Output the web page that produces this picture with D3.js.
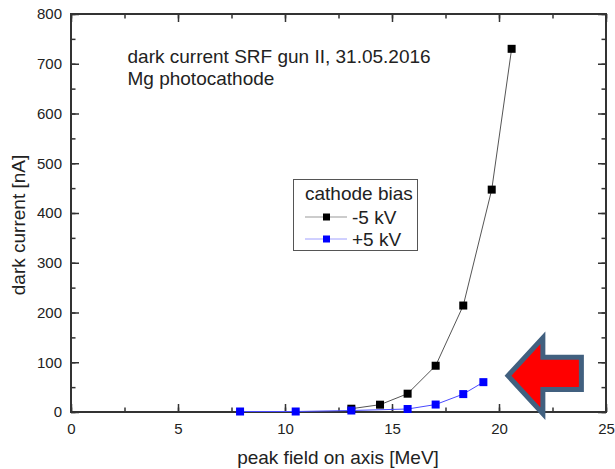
<!DOCTYPE html>
<html><head><meta charset="utf-8">
<script src="https://cdn.jsdelivr.net/npm/d3@7"></script>
<style>body{margin:0;background:#fff}svg{display:block}text{font-family:"Liberation Sans",Arial,sans-serif;fill:#222}</style>
</head><body><svg id="c" width="615" height="469"></svg>
<script>
const xTicks = [0, 5, 10, 15, 20, 25];
const yTicks = [0, 100, 200, 300, 400, 500, 600, 700, 800];
const negX = [13.1, 14.44, 15.73, 17.04, 18.33, 19.66, 20.59];
const negY = [6.6, 14.7, 36.8, 93, 214, 447, 730];
const posX = [7.9, 10.5, 13.1, 15.73, 17.04, 18.33, 19.27];
const posY = [1, 1, 3, 6, 15, 36, 60];
const seriesNames = ["-5 kV", "+5 kV"];
const legendTitle = "cathode bias";
const noteLines = ["dark current SRF gun II, 31.05.2016", "Mg photocathode"];
const xLabel = "peak field on axis [MeV]";
const yLabel = "dark current [nA]";
// annotation arrow vertices in data units
const arrowX = [20.42, 22.05, 22.05, 23.85, 23.85, 22.05, 22.05];
const arrowY = [73, 149, 110, 110, 45.4, 45.4, -3.4];

const W = 615, H = 469, m = {l: 71, r: 9, t: 14, b: 57};
const svg = d3.select("#c");
const x = d3.scaleLinear().domain([0, 25]).range([m.l, W - m.r]);
const y = d3.scaleLinear().domain([0, 800]).range([H - m.b, m.t]);
const axisColor = "#333";

function styleAxis(g) {
  g.select(".domain").remove();
  g.selectAll("line").attr("stroke", axisColor).attr("stroke-width", 1.5);
  g.selectAll("text").style("font-size", "15px").attr("fill", "#222");
}
const xMinor = d3.range(0, 25.01, 2.5);
const yMinor = d3.range(0, 800.1, 50);
// bottom
svg.append("g").attr("transform", `translate(0,${y(0)})`)
  .call(d3.axisBottom(x).tickValues(xMinor).tickSize(-4.5).tickFormat(""))
  .call(styleAxis);
svg.append("g").attr("transform", `translate(0,${y(0)})`)
  .call(d3.axisBottom(x).tickValues(xTicks).tickSize(-8).tickPadding(11.5).tickFormat(d3.format("d")))
  .call(styleAxis);
// top
svg.append("g").attr("transform", `translate(0,${y(800)})`)
  .call(d3.axisTop(x).tickValues(xMinor).tickSize(-4.5).tickFormat("")).call(styleAxis);
svg.append("g").attr("transform", `translate(0,${y(800)})`)
  .call(d3.axisTop(x).tickValues(xTicks).tickSize(-8).tickFormat("")).call(styleAxis);
// left
svg.append("g").attr("transform", `translate(${x(0)},0)`)
  .call(d3.axisLeft(y).tickValues(yMinor).tickSize(-4.5).tickFormat("")).call(styleAxis);
svg.append("g").attr("transform", `translate(${x(0)},0)`)
  .call(d3.axisLeft(y).tickValues(yTicks).tickSize(-8).tickPadding(9).tickFormat(d3.format("d"))).call(styleAxis);
// right
svg.append("g").attr("transform", `translate(${x(25)},0)`)
  .call(d3.axisRight(y).tickValues(yMinor).tickSize(-4.5).tickFormat("")).call(styleAxis);
svg.append("g").attr("transform", `translate(${x(25)},0)`)
  .call(d3.axisRight(y).tickValues(yTicks).tickSize(-8).tickFormat("")).call(styleAxis);
// frame
svg.append("rect").attr("x", x(0)).attr("y", y(800)).attr("width", x(25) - x(0)).attr("height", y(0) - y(800))
  .attr("fill", "none").attr("stroke", axisColor).attr("stroke-width", 2);

const line = d3.line().x(d => x(d[0])).y(d => y(d[1]));
const neg = negX.map((v, i) => [v, negY[i]]);
const pos = posX.map((v, i) => [v, posY[i]]);
const ms = 8;
svg.append("path").attr("d", line(neg)).attr("fill", "none").attr("stroke", "#555").attr("stroke-width", 1);
svg.selectAll(".mn").data(neg).enter().append("rect")
  .attr("x", d => x(d[0]) - ms / 2).attr("y", d => y(d[1]) - ms / 2).attr("width", ms).attr("height", ms).attr("fill", "#000");
svg.append("path").attr("d", line(pos)).attr("fill", "none").attr("stroke", "#4a4aff").attr("stroke-width", 1);
svg.selectAll(".mp").data(pos).enter().append("rect")
  .attr("x", d => x(d[0]) - ms / 2).attr("y", d => y(d[1]) - ms / 2).attr("width", ms).attr("height", ms).attr("fill", "#0000ff");

// arrow
const arrowPts = arrowX.map((v, i) => [x(v), y(arrowY[i])]);
svg.append("path").attr("d", "M" + arrowPts.join("L") + "Z")
  .attr("fill", "#ff0000").attr("stroke", "#41607f").attr("stroke-width", 5).attr("stroke-linejoin", "miter");

// note
svg.append("text").attr("x", 127.5).attr("y", 63).style("font-size", "19px").text(noteLines[0]);
svg.append("text").attr("x", 127.5).attr("y", 85).style("font-size", "19px").text(noteLines[1]);

// legend
const lg = svg.append("g");
lg.append("rect").attr("x", 293.5).attr("y", 179.5).attr("width", 124).attr("height", 71)
  .attr("fill", "#fff").attr("stroke", "#555").attr("stroke-width", 1);
lg.append("text").attr("x", 305).attr("y", 200).style("font-size", "19px").text(legendTitle);
const legCols = [["#999", "#000"], ["#a0a0ff", "#0000ff"]];
seriesNames.forEach((n, i) => {
  const yy = 217 + i * 22;
  lg.append("line").attr("x1", 305).attr("x2", 347).attr("y1", yy).attr("y2", yy).attr("stroke", legCols[i][0]).attr("stroke-width", 1);
  lg.append("rect").attr("x", 323).attr("y", yy - 3.5).attr("width", 7).attr("height", 7).attr("fill", legCols[i][1]);
  lg.append("text").attr("x", 352).attr("y", yy + 6.5).style("font-size", "19px").text(n);
});

// axis titles
svg.append("text").attr("x", 338).attr("y", 464).attr("text-anchor", "middle").style("font-size", "19px").text(xLabel);
svg.append("text").attr("transform", `translate(25,225) rotate(-90)`).attr("text-anchor", "middle").style("font-size", "19px").text(yLabel);
</script></body></html>
